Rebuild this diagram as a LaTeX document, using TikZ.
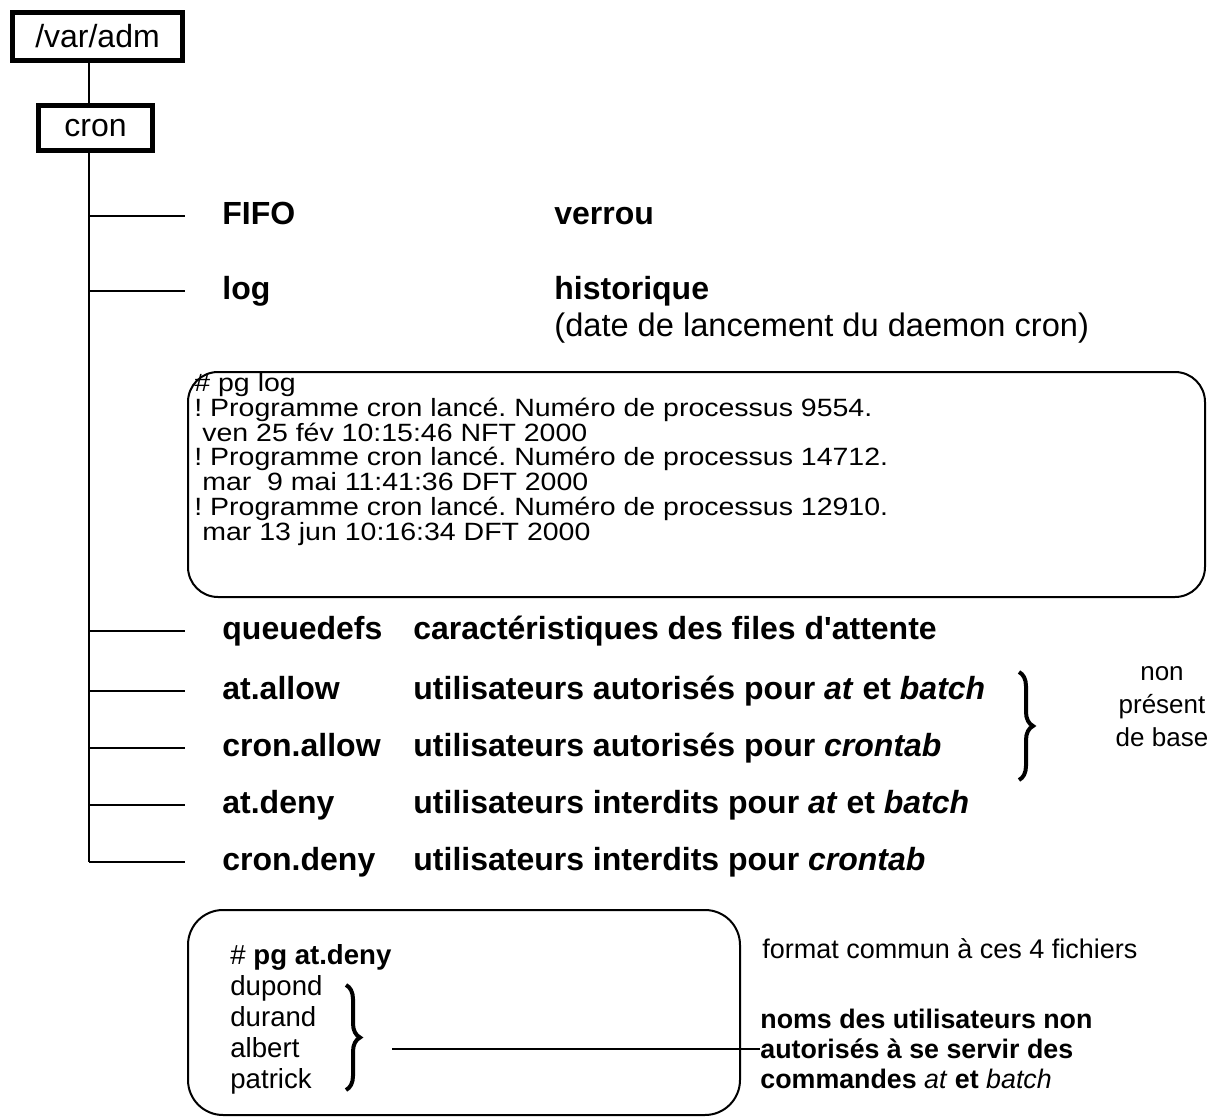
\documentclass[tikz,border=0pt]{standalone}
\usepackage{fontspec}
\setmainfont{Liberation Sans}
\newfontfamily\logfont[FakeStretch=1.14]{Liberation Sans}
\usetikzlibrary{decorations.pathreplacing}
\frenchspacing

\tikzset{
  dirbox/.style={draw, line width=2.5pt, inner sep=0pt, font=\fontsize{16}{19}\selectfont},
  branch/.style={line width=1pt},
  fname/.style={anchor=base west, inner sep=0pt, font=\fontsize{16}{19}\selectfont\bfseries},
  plain/.style={anchor=base west, inner sep=0pt, font=\fontsize{16.3}{19}\selectfont},
  listing/.style={line width=1pt},
  bracket/.style={decorate, decoration={brace, amplitude=7pt}, line width=2pt},
  small/.style={inner sep=0pt, font=\fontsize{13.5}{15}\selectfont},
}

\begin{document}
\begin{tikzpicture}[x=0.5pt, y=-0.5pt]
  \useasboundingbox (0,0) rectangle (1207,1119);

  % directories
  \node[dirbox, minimum width=85pt, minimum height=24pt] (varadm) at (97.5,36.5) {/var/adm};
  \node[dirbox, minimum width=57pt, minimum height=22.5pt] (cron) at (95.5,128) {cron};
  \coordinate (trunk) at (89,862);
  \draw[branch] (varadm.south -| trunk) -- (cron.north -| trunk);
  \draw[branch] (cron.south -| trunk) -- (trunk);

  % files under cron
  \foreach \y/\id/\txt in {216/fifo/FIFO, 291/log/log, 631/queuedefs/queuedefs,
      691/atallow/at.allow, 748/cronallow/cron.allow, 805/atdeny/at.deny,
      862/crondeny/cron.deny}{
    \coordinate (\id-end) at (185,\y);
    \draw[branch] (\id-end -| trunk) -- (\id-end);
    \node[fname] (\id) at (222,\y+8) {\txt};
  }

  % what each file holds
  \node[fname] (verrou) at (554,224) {verrou};
  \node[fname] (histo) at (554,299) {historique};
  \node[plain] (daemon) at (554,336) {(date de lancement du daemon cron)};
  \node[fname] (qdesc) at (413,639) {caractéristiques des files d\textquotesingle attente};
  \node[fname] (aadesc) at (413,699) {utilisateurs autorisés pour \textit{at} et \textit{batch}};
  \node[fname] (cadesc) at (413,756) {utilisateurs autorisés pour \textit{crontab}};
  \node[fname] (addesc) at (413,813) {utilisateurs interdits pour \textit{at} et \textit{batch}};
  \node[fname] (cddesc) at (413,870) {utilisateurs interdits pour \textit{crontab}};

  % contents of log
  \draw[listing, rounded corners=15pt] (188,372) rectangle (1205,597);
  \node[anchor=north west, align=left, inner sep=0pt,
        font=\logfont\fontsize{12.5}{12.4}\selectfont] (logtxt) at (194,373)
    {\# pg log\\
     ! Programme cron lancé. Numéro de processus 9554.\\
     \ ven 25 fév 10:15:46 NFT 2000\\
     ! Programme cron lancé. Numéro de processus 14712.\\
     \ mar\ \ 9 mai 11:41:36 DFT 2000\\
     ! Programme cron lancé. Numéro de processus 12910.\\
     \ mar 13 jun 10:16:34 DFT 2000};

  % allow files are optional
  \draw[bracket] (1019,672) -- (1019,780);
  \node[small, align=center, font=\fontsize{13}{16.5}\selectfont] (nonpresent) at (1162,707)
    {non\\présent\\de base};

  % contents of at.deny
  \draw[listing, rounded corners=17.5pt] (188,910) rectangle (740,1115);
  \node[anchor=north west, align=left, inner sep=0pt,
        font=\fontsize{13.8}{15.5}\selectfont] (denytxt) at (230,944)
    {\# \textbf{pg at.deny}\\dupond\\durand\\albert\\patrick};
  \draw[bracket] (346,985) -- (346,1090);
  \coordinate (users) at (392,1049);

  \node[small, anchor=base west] (format) at (762,958) {format commun à ces 4 fichiers};
  \node[small, anchor=west, align=left, font=\fontsize{13.4}{15}\selectfont\bfseries] (note) at (760,1049)
    {noms des utilisateurs non\\autorisés à se servir des\\commandes \textit{\mdseries at} et \textit{\mdseries batch}};
  \draw[branch] (users) -- (note.west);
\end{tikzpicture}
\end{document}
